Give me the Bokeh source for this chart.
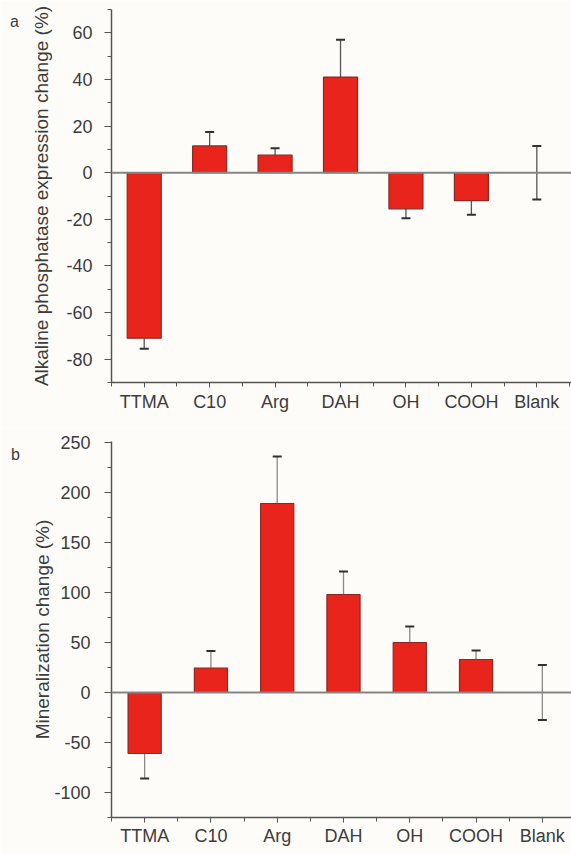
from bokeh.plotting import figure
from bokeh.layouts import column
from bokeh.models import (ColumnDataSource, FixedTicker, Span, Whisker, Range1d, Div)
from bokeh.embed import file_html
from bokeh.resources import INLINE

categories = ["TTMA", "C10", "Arg", "DAH", "OH", "COOH", "Blank"]

alp_change = [-71, 11.5, 7.5, 41, -15.5, -12, 0]
alp_error = [4.5, 6, 3, 16, 4, 6, 11.5]

min_change = [-61, 24.5, 189, 98, 50, 33, 0]
min_error = [25, 17, 47, 23, 16, 9, 27.5]

alp_ticks = [-80, -60, -40, -20, 0, 20, 40, 60]
min_ticks = [-100, -50, 0, 50, 100, 150, 200, 250]

BG = "#fdfcf8"
BAR = "#e8241c"
EDGE = "#8a2a20"
FONT = "Liberation Sans"
TXT = "#3c3c3c"


def make_panel(vals, errs, ylabel, ylab_standoff, tick_standoff, yr, major,
               minor, xr, bar_w, width, height, left, top, bottom,
               xlab_standoff, err_color):
    x = list(range(len(categories)))
    src = ColumnDataSource(dict(
        x=x, top=vals,
        upper=[v + e for v, e in zip(vals, errs)],
        lower=[v - e for v, e in zip(vals, errs)],
        w=[bar_w if v != 0 else 0 for v in vals],
    ))
    p = figure(width=width, height=height, output_backend="svg",
               toolbar_location=None, x_range=Range1d(*xr),
               y_range=Range1d(*yr), min_border_left=left,
               min_border_right=0, min_border_top=top,
               min_border_bottom=bottom)
    p.background_fill_color = BG
    p.border_fill_color = BG
    p.outline_line_color = None
    p.grid.visible = False

    p.vbar(x="x", top="top", bottom=0, width="w", source=src,
           fill_color=BAR, line_color=EDGE, line_width=1.2)

    p.add_layout(Span(location=0, dimension="width", line_color="#858585",
                      line_width=2))

    wk = Whisker(base="x", upper="upper", lower="lower", source=src,
                 line_color=err_color, line_width=1.3)
    for h in (wk.upper_head, wk.lower_head):
        h.size = 9
        h.line_color = "#303030"
        h.line_width = 2
    p.add_layout(wk)

    xa = p.xaxis[0]
    xa.ticker = FixedTicker(ticks=x, minor_ticks=[i + 0.5 for i in range(-1, len(categories))])
    xa.major_label_overrides = {i: c for i, c in enumerate(categories)}
    xa.major_label_text_font = FONT
    xa.major_label_text_font_size = "18px"
    xa.major_label_text_color = TXT
    xa.major_label_standoff = xlab_standoff
    xa.axis_line_color = "#555555"
    xa.axis_line_width = 1.5
    xa.major_tick_line_color = "#555555"
    xa.minor_tick_line_color = "#555555"
    xa.major_tick_out = 5
    xa.major_tick_in = 0
    xa.minor_tick_out = 4
    xa.minor_tick_in = 0

    ya = p.yaxis[0]
    ya.ticker = FixedTicker(ticks=major, minor_ticks=minor)
    ya.major_label_overrides = {t: str(t) for t in major}
    ya.major_label_text_font = FONT
    ya.major_label_text_font_size = "18px"
    ya.major_label_text_color = TXT
    ya.axis_label = ylabel
    ya.axis_label_text_font = FONT
    ya.axis_label_text_font_size = "19px"
    ya.axis_label_text_font_style = "normal"
    ya.axis_label_text_color = TXT
    ya.axis_label_standoff = ylab_standoff
    ya.axis_line_color = "#555555"
    ya.axis_line_width = 1.5
    ya.major_tick_line_color = "#555555"
    ya.minor_tick_line_color = "#555555"
    ya.major_tick_out = 7
    ya.major_tick_in = 0
    ya.minor_tick_out = 4
    ya.minor_tick_in = 0
    ya.major_label_standoff = tick_standoff
    return p


pa = make_panel(alp_change, alp_error,
                "Alkaline phosphatase expression change (%)", 11, 12,
                (-90, 70), alp_ticks,
                [-90, -70, -50, -30, -10, 10, 30, 50, 70],
                (-0.5, 6.53), 0.52, 571, 428, 107, 9, 46, 4, "#555555")

pb = make_panel(min_change, min_error, "Mineralization change (%)", -2, 14,
                (-125, 251), min_ticks,
                [-125, -75, -25, 25, 75, 125, 175, 225],
                (-0.5, 6.44), 0.5, 571, 426, 111, 13, 37, 3, "#8a8a8a")

lab_style = {"position": "absolute", "font-family": FONT, "font-size": "16px",
             "color": TXT, "z-index": "10", "margin": "0", "padding": "0",
             "line-height": "16px"}
da = Div(text="a", styles=dict(lab_style, top="14px", left="10px"))
db = Div(text="b", styles=dict(lab_style, top="447px", left="11px"))

layout = column(da, pa, db, pb, spacing=0)
open("out.html", "w").write(file_html(layout, INLINE))
